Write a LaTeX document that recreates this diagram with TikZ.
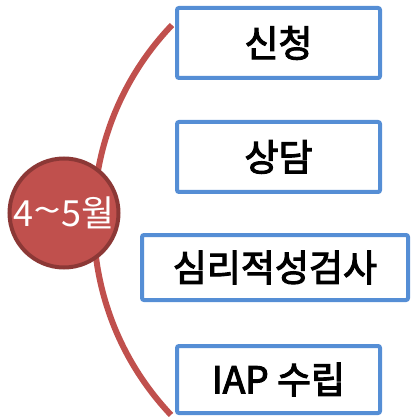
\documentclass[tikz,border=0pt]{standalone}
\usepackage{fontspec}
\usepackage{xcolor}
\usetikzlibrary{positioning,calc}
\newfontfamily\kr{Noto Sans CJK KR}
\newfontfamily\krmid{Noto Sans CJK KR}[FakeBold=3]
\definecolor{stepblue}{RGB}{85,142,213}
\definecolor{monthred}{RGB}{192,80,77}
\definecolor{monthdark}{RGB}{140,56,54}

\begin{document}
\begin{tikzpicture}[x=1pt, y=1pt,
    stepbox/.style={draw=stepblue, line width=4pt, rounded corners=2pt, fill=white,
        minimum width=203pt, minimum height=70pt, inner sep=0pt,
        font=\krmid\fontsize{37}{40}\selectfont},
    monthdot/.style={circle, draw=monthdark, line width=4pt, fill=monthred,
        minimum size=109pt, inner sep=0pt, text=white,
        font=\kr\fontsize{36}{40}\selectfont},
    bracket/.style={draw=monthred, line width=6pt}]
    \useasboundingbox (0,0) rectangle (414,-419);
    % bracket behind the month
    \coordinate (arctop) at (172,-25);
    \draw[bracket] (arctop) arc[start angle=136.3, end angle=223.4, radius=283];
    \node[monthdot] (month) at (64,-213) {4\raisebox{3pt}{\scalebox{1.4}[1]{\textasciitilde}}5월};
    % steps
    \node[stepbox] (apply) at (278.5,-43) {신청};
    \node[stepbox] (consult) at (278.5,-157) {상담};
    \node[stepbox, minimum width=266pt, minimum height=65pt] (test) at (275,-267.5) {심리적성검사};
    \node[stepbox, minimum height=67pt] (plan) at (278.5,-379.5) {IAP 수립};
\end{tikzpicture}
\end{document}
